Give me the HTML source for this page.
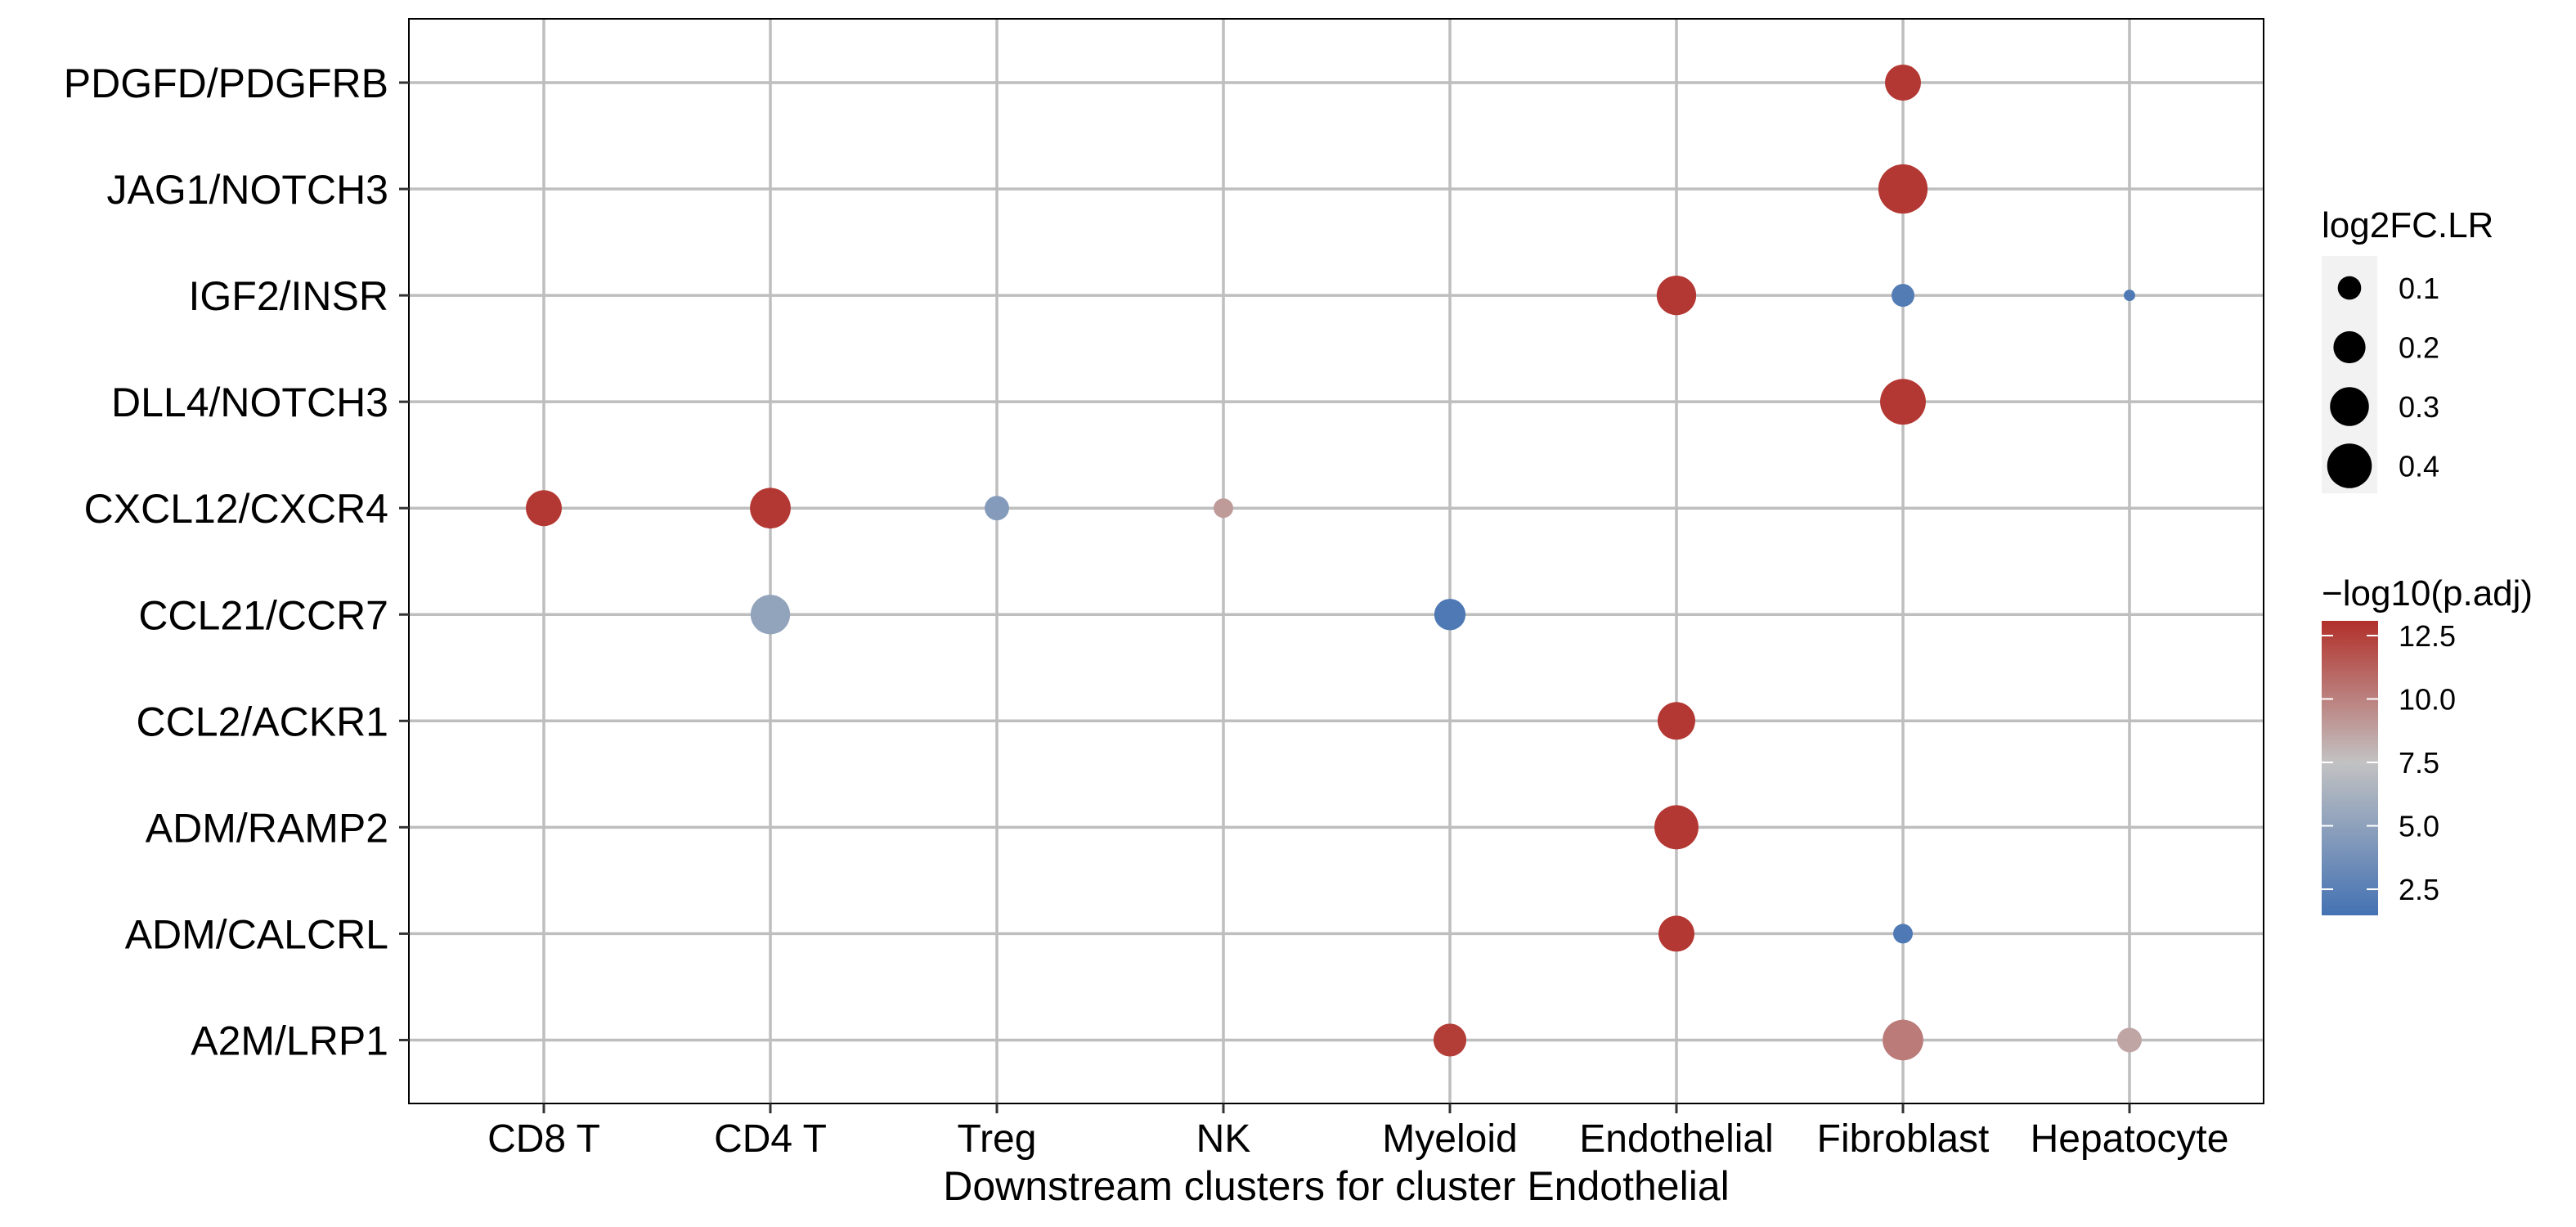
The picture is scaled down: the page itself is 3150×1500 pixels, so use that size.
<!DOCTYPE html>
<html><head><meta charset="utf-8"><style>
html,body{margin:0;padding:0;background:#fff;}
svg{display:block;font-family:"Liberation Sans",Arial,sans-serif;}
</style></head><body>
<svg id="chart" width="3150" height="1500" viewBox="0 0 3150 1500" xmlns="http://www.w3.org/2000/svg">
<rect x="0" y="0" width="3150" height="1500" fill="#fff"/>
<g id="grid"></g>
<g id="dots"></g>
<rect x="500" y="23" width="2268" height="1326" fill="none" stroke="#000" stroke-width="2"/>
<g id="yaxis"></g>
<g id="xaxis"></g>
<text x="1634" y="1467" font-size="50" text-anchor="middle">Downstream clusters for cluster Endothelial</text>
<g id="legend-size">
<text x="2839" y="290" font-size="44">log2FC.LR</text>
<rect x="2839" y="313" width="68" height="290" fill="#f2f2f2"/>
</g>
<g id="legend-color">
<text x="2839" y="740" font-size="44">−log10(p.adj)</text>
<defs><linearGradient id="cg" x1="0" y1="1" x2="0" y2="0">
<stop offset="0" stop-color="#4472B3"/><stop offset="0.52" stop-color="#C2C2C2"/><stop offset="1" stop-color="#B2302A"/>
</linearGradient></defs>
<rect x="2839" y="759" width="69" height="360" fill="url(#cg)"/>
</g>
</svg>
<script>
const categories = ["CD8 T","CD4 T","Treg","NK","Myeloid","Endothelial","Fibroblast","Hepatocyte"];
const pairs = ["PDGFD/PDGFRB","JAG1/NOTCH3","IGF2/INSR","DLL4/NOTCH3","CXCL12/CXCR4","CCL21/CCR7","CCL2/ACKR1","ADM/RAMP2","ADM/CALCRL","A2M/LRP1"];
const pointPair = ["PDGFD/PDGFRB","JAG1/NOTCH3","IGF2/INSR","IGF2/INSR","IGF2/INSR","DLL4/NOTCH3","CXCL12/CXCR4","CXCL12/CXCR4","CXCL12/CXCR4","CXCL12/CXCR4","CCL21/CCR7","CCL21/CCR7","CCL2/ACKR1","ADM/RAMP2","ADM/CALCRL","ADM/CALCRL","A2M/LRP1","A2M/LRP1","A2M/LRP1"];
const pointCluster = ["Fibroblast","Fibroblast","Endothelial","Fibroblast","Hepatocyte","Fibroblast","CD8 T","CD4 T","Treg","NK","CD4 T","Myeloid","Endothelial","Endothelial","Endothelial","Fibroblast","Myeloid","Fibroblast","Hepatocyte"];
const log2FC = [0.255,0.49,0.31,0.095,0.013,0.42,0.255,0.33,0.11,0.066,0.31,0.19,0.28,0.39,0.255,0.066,0.21,0.33,0.11];
const negLogP = [12.8,12.8,12.8,2.2,2.0,12.8,12.8,12.8,4.6,9.0,5.2,2.0,12.8,12.8,12.8,2.0,12.6,10.2,8.6];
const sizeBreaks = [0.1,0.2,0.3,0.4];
const colorTicks = [2.5,5.0,7.5,10.0,12.5];

const NS="http://www.w3.org/2000/svg";
function mk(tag,attrs,parent){const e=document.createElementNS(NS,tag);for(const k in attrs)e.setAttribute(k,attrs[k]);parent.appendChild(e);return e;}
const xPos = c => 665 + 277*categories.indexOf(c);
const yPos = p => 101 + 130.05*pairs.indexOf(p);
const rad = v => Math.sqrt(25 + 1800*Math.max(v,0));
const cMin=1.47,cMax=13.08;
const cY = v => 1119 - (v-cMin)/(cMax-cMin)*360;
function lerp(a,b,t){return a.map((x,i)=>Math.round(x+(b[i]-x)*t));}
function col(v){let t=Math.min(1,Math.max(0,(v-cMin)/(cMax-cMin)));const lo=[68,114,179],mid=[194,194,194],hi=[178,48,42];const c=t<0.52?lerp(lo,mid,t/0.52):lerp(mid,hi,(t-0.52)/0.48);return `rgb(${c[0]},${c[1]},${c[2]})`;}

const grid=document.getElementById('grid'),dots=document.getElementById('dots'),ya=document.getElementById('yaxis'),xa=document.getElementById('xaxis');
pairs.forEach(p=>{const y=yPos(p);
 const l=mk('line',{x1:500,x2:2768,y1:y,y2:y,stroke:'#bebebe','stroke-width':3.5},grid);
 
 
 const t=mk('line',{x1:488,x2:500,y1:y,y2:y,stroke:'#333','stroke-width':3},ya);
 
 
 const tx=mk('text',{x:475,y:y+18,'font-size':50,'text-anchor':'end'},ya);tx.textContent=p;
 
 
});
categories.forEach(c=>{const x=xPos(c);
 const l=mk('line',{x1:x,x2:x,y1:23,y2:1349,stroke:'#bebebe','stroke-width':3.5},grid);
 
 
 const t=mk('line',{x1:x,x2:x,y1:1349,y2:1361,stroke:'#333','stroke-width':3},xa);
 
 
 const tx=mk('text',{x:x,y:1408,'font-size':48,'text-anchor':'middle'},xa);tx.textContent=c;
 
 
});
log2FC.forEach((v,i)=>{
 const d=mk('circle',{cx:xPos(pointCluster[i]),cy:yPos(pointPair[i]),r:rad(v),fill:col(negLogP[i])},dots);
 
 
});
const ls=document.getElementById('legend-size');
sizeBreaks.forEach((b,i)=>{const y=352+72.5*i;
 const c=mk('circle',{cx:2873,cy:y,r:rad(b),fill:'#000'},ls);
 
 
 const t=mk('text',{x:2933,y:y+13,'font-size':36},ls);t.textContent=b.toFixed(1);
 
 
});
const lc=document.getElementById('legend-color');
colorTicks.forEach(v=>{const y=cY(v);
 const a=mk('line',{x1:2839,x2:2853,y1:y,y2:y,stroke:'#fff','stroke-width':2},lc);
 
 
 const b=mk('line',{x1:2894,x2:2908,y1:y,y2:y,stroke:'#fff','stroke-width':2},lc);
 
 
 const t=mk('text',{x:2933,y:y+13,'font-size':36},lc);t.textContent=v.toFixed(1);
 
 
});
</script>
</body></html>
